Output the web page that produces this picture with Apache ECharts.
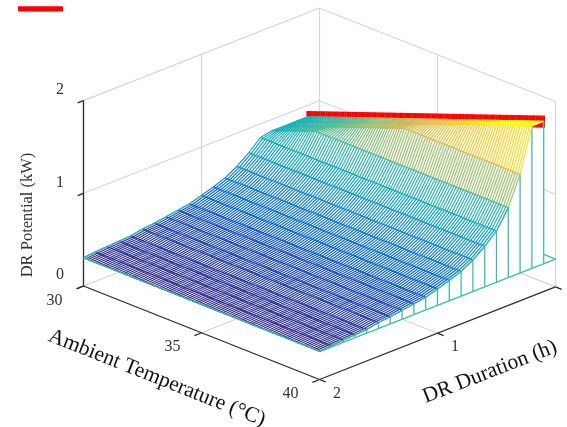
<!DOCTYPE html>
<html><head><meta charset="utf-8">
<style>html,body{margin:0;padding:0;background:#fff}#c{width:567px;height:427px}</style>
<script src="https://cdn.jsdelivr.net/npm/echarts@6/dist/echarts.min.js"></script>
</head><body><div id="c"></div>
<script>
// ---- data ----
const durations = [0.1,0.2,0.3,0.4,0.5,0.6,0.7,0.8,0.9,1.0,1.1,1.2,1.3,1.4,1.5,1.6,1.7,1.8,1.9,2.0];
// potential for each duration before the temperature limit applies
const potentialByDuration = [4.0,2.04,1.365,1.055,0.853,0.738,0.64,0.567,0.52,0.478,0.437,0.418,0.397,0.377,0.365,0.34,0.332,0.325,0.316,0.305];
// upper limit of the potential for each ambient temperature, 30.0 to 40.0 in 0.1 steps
const limitByTemperature = [
0.877,0.887,0.896,0.906,0.915,0.925,0.935,0.944,0.954,0.963,
0.973,0.982,0.992,1.002,1.011,1.021,1.030,1.040,1.050,1.059,
1.069,1.078,1.088,1.098,1.107,1.117,1.126,1.136,1.146,1.155,
1.165,1.174,1.184,1.193,1.203,1.213,1.222,1.232,1.241,1.251,
1.261,1.270,1.280,1.289,1.299,1.308,1.318,1.328,1.337,1.347,
1.356,1.366,1.376,1.385,1.395,1.404,1.414,1.424,1.433,1.443,
1.452,1.462,1.472,1.481,1.491,1.500,1.510,1.519,1.529,1.539,
1.548,1.558,1.567,1.577,1.587,1.596,1.606,1.615,1.625,1.635,
1.644,1.654,1.663,1.673,1.683,1.692,1.702,1.711,1.721,1.731,
1.740,1.750,1.759,1.769,1.778,1.788,1.798,1.807,1.817,1.826,
1.836];
const temperatures = limitByTemperature.map((_, i) => 30 + i / 10);
const skirtLevel = 0.3;
const temperatureTicks = [30,35,40];
const durationTicks = [2,1];
const potentialTicks = [0,1,2];
const xName = 'Ambient Temperature (°C)';
const yName = 'DR Duration (h)';
const zName = 'DR Potential (kW)';

// ---- view of the 3D box ----
const O = [83.5, 286], TX = 23.6, TY = 9.35, DX = 118, DY = -46.3, ZY = -92.7;
const project = (T, D, Z) => [O[0] + (T-30)*TX + (2-D)*DX, O[1] + (T-30)*TY + (2-D)*DY + Z*ZY];

const stops = ['#352a87','#0363e1','#1485d4','#06a7c6','#38b99e','#92bf73','#d9ba56','#fcce2e','#f9fb0e'];
function colorOf(z){
  let t = Math.max(0, Math.min(1, (z-0.3)/1.42)) * (stops.length-1);
  let i = Math.min(stops.length-2, Math.floor(t)), f = t-i;
  const p = h => [1,3,5].map(k => parseInt(h.substr(k,2),16));
  const a = p(stops[i]), b = p(stops[i+1]);
  return 'rgb(' + a.map((v,k) => Math.round(v+(b[k]-v)*f)).join(',') + ')';
}
const surface = durations.map((d, r) => limitByTemperature.map(l => Math.min(potentialByDuration[r], l)));
const TEAL = '#3dbfa6', GRID = '#d6d6d6', AXIS = '#2b2b2b';

// segments: [T1,D1,Z1,T2,D2,Z2]
const gridSegs = [];
[1,2].forEach(z => { gridSegs.push([30,2,z,30,0,z],[30,0,z,40,0,z]); });
gridSegs.push([30,2,0,30,0,0],[30,0,0,40,0,0],[30,1,0,40,1,0],[35,2,0,35,0,0]);
gridSegs.push([30,1,0,30,1,2],[30,0,0,30,0,2],[35,0,0,35,0,2],[40,0,0,40,0,2]);

const axisSegs = [[30,2,0,30,2,2],[30,2,0,40,2,0],[40,2,0,40,0,0]];
const tickSegs = [];
potentialTicks.forEach(z => tickSegs.push([30,2,z,30.0,2.05,z].slice()));
temperatureTicks.forEach(t => tickSegs.push([t,2,0,t,2.06,0]));
[2,1,0].forEach(d => tickSegs.push([40,d,0,40.26,d,0]));

const rowSegs = [], crossSegs = [], curtain = [], edges = [];
surface.forEach((row, r) => {
  for (let i = 0; i < 100; i++) rowSegs.push([temperatures[i],durations[r],row[i],temperatures[i+1],durations[r],row[i+1]]);
});
for (let i = 0; i <= 100; i++) for (let r = 0; r < 19; r++)
  crossSegs.push([temperatures[i],durations[r],surface[r][i],temperatures[i],durations[r+1],surface[r+1][i]]);
durations.forEach((d, r) => curtain.push([40,d,surface[r][100],40,d,skirtLevel]));
const baseSegs = [[40,2,skirtLevel,40,0,skirtLevel],[40,0,skirtLevel,39.5,0,skirtLevel]];
for (let i = 0; i < 100; i++) edges.push([temperatures[i],2,surface[19][i],temperatures[i+1],2,surface[19][i+1]]);
for (let r = 3; r < 19; r++) {
  edges.push([40,durations[r],surface[r][100],40,durations[r+1],surface[r+1][100]]);
  if (r >= 9) edges.push([30,durations[r],surface[r][0],30,durations[r+1],surface[r+1][0]]);
}

function lineSeries(name, segs, strokeOf, lw){
  return { type:'custom', name, silent:true, clip:false, animation:false, progressive:0,
    coordinateSystem:'cartesian2d', data:segs, encode:{x:0,y:1},
    renderItem(p, api){
      const s = segs[p.dataIndex];
      const a = api.coord(project(s[0],s[1],s[2])), b = api.coord(project(s[3],s[4],s[5]));
      return {type:'line', silent:true, shape:{x1:a[0],y1:a[1],x2:b[0],y2:b[1]},
        style:{stroke:strokeOf(s), lineWidth:lw, lineCap:'butt'}};
    }};
}
// white faces
function polygonSeries(name, polys, fill){
  return { type:'custom', name, silent:true, clip:false, animation:false,
    coordinateSystem:'cartesian2d', data:polys.map((_, i) => [i,0]), encode:{x:0,y:1},
    renderItem(p, api){
      const pts = polys[p.dataIndex].map(q => api.coord(project(q[0],q[1],q[2])));
      return {type:'polygon', silent:true, shape:{points:pts}, style:{fill, stroke:fill, lineWidth:0.5}};
    }};
}
const facePolys = [];
for (let r = 0; r < 19; r++) {
  const a = temperatures.map((t,i) => [t,durations[r],surface[r][i]]);
  const b = temperatures.map((t,i) => [t,durations[r+1],surface[r+1][i]]).reverse();
  facePolys.push(a.concat(b));
}
const curtainPoly = [durations.map((d,r) => [40,d,surface[r][100]]).concat(durations.slice().reverse().map(d => [40,d,skirtLevel]))];
const redSegs = temperatures.map((t,i) => [t,0.1,surface[0][i]+0.062,t,0.1,surface[0][i]-0.068]);

const serif = '"Liberation Serif","Times New Roman",serif';
const labels = [];
const addText = (text, x, y, size, fill, rotation) => labels.push({type:'text', x, y, rotation:rotation||0, silent:true,
  style:{text, fill, font:size+'px '+serif, textAlign:'center', textVerticalAlign:'middle'}});
potentialTicks.forEach(z => { const q = project(30,2,z); addText(String(z), q[0]-23.5, q[1]-11, 16, '#333333'); });
temperatureTicks.forEach(t => { const q = project(t,2,0); addText(String(t), q[0]-29, q[1]+14.5, 16, '#333333'); });
durationTicks.forEach(d => { const q = project(40,d,0); addText(String(d), q[0]+17.5, q[1]+14, 16, '#333333'); });
addText(xName, 157, 378, 21.5, '#111111', -0.379);
addText(yName, 490, 372, 21.5, '#111111', 0.372);
addText(zName, 28, 215, 16.5, '#333333', Math.PI/2);
labels.push({type:'rect', silent:true, shape:{x:18,y:6.2,width:45,height:5.4}, style:{fill:'#ff0000'}});

const chart = echarts.init(document.getElementById('c'), null, {renderer:'canvas'});
chart.setOption({
  animation:false, backgroundColor:'#ffffff',
  grid:{left:0,right:0,top:0,bottom:0},
  xAxis:{type:'value',min:0,max:567,show:false},
  yAxis:{type:'value',min:0,max:427,inverse:true,show:false},
  series:[
    lineSeries('grid', gridSegs, () => GRID, 1.2),
    lineSeries('axes', axisSegs, () => AXIS, 1.3),
    lineSeries('ticks', tickSegs, () => AXIS, 1.3),
    polygonSeries('curtainFace', curtainPoly, '#ffffff'),
    lineSeries('limit', redSegs, () => '#ff0000', 2.6),
    polygonSeries('faces', facePolys, '#ffffff'),
    lineSeries('curtain', curtain, () => TEAL, 1.3),
    lineSeries('curtainBase', baseSegs, () => TEAL, 1.3),
    lineSeries('cross', crossSegs, s => colorOf((s[2]+s[5])/2), 1.15),
    lineSeries('rows', rowSegs, s => colorOf((s[2]+s[5])/2), 1.3),
    lineSeries('edges', edges, () => TEAL, 1.3)
  ],
  graphic:{elements:labels}
});
</script></body></html>
